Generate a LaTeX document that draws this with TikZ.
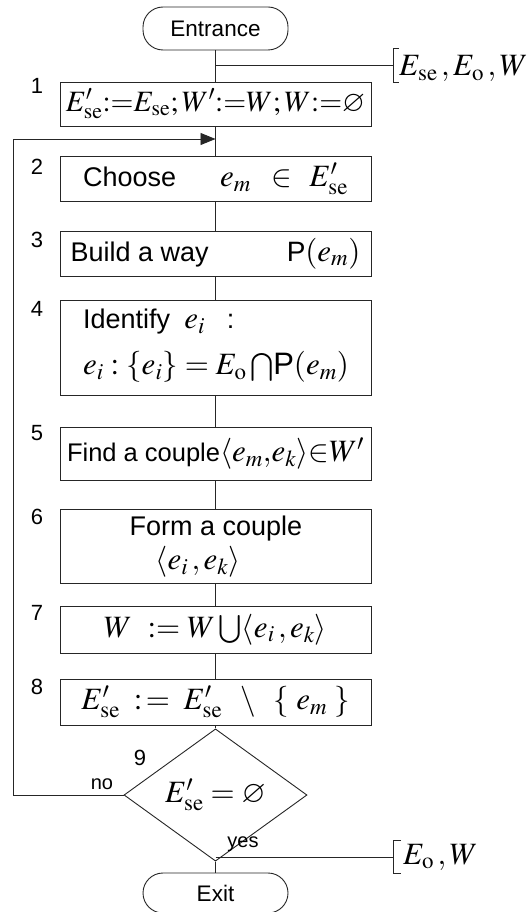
\documentclass[tikz,border=0pt]{standalone}
\usepackage{mathptmx}
\usepackage{amssymb}
\usepackage[no-math]{fontspec}
\setmainfont{Liberation Serif}
\setsansfont{Liberation Sans}
\usetikzlibrary{shapes.geometric,arrows.meta,calc}
\newcommand{\mf}{\fontsize{31}{35}\selectfont}
\newcommand{\mfs}{\fontsize{29.5}{33}\selectfont}
\tikzset{
  ln/.style={draw=black!85, line width=0.9pt},
  stepbox/.style={ln, rectangle, minimum width=311pt, inner sep=0pt, font=\sffamily\fontsize{27}{31}\selectfont},
  term/.style={ln, rectangle, rounded corners=20pt, minimum width=145pt, inner sep=0pt, font=\sffamily\fontsize{22.5}{26}\selectfont},
  num/.style={font=\sffamily\fontsize{22}{26}\selectfont, inner sep=0pt},
  txt/.style={font=\sffamily\fontsize{27}{31}\selectfont, inner sep=0pt},
  lbl/.style={font=\sffamily\fontsize{20}{24}\selectfont, inner sep=0pt},
  dtxt/.style={font=\mf, anchor=base west, inner sep=0pt},
  loopar/.style={ln, -{Triangle[length=15pt,width=12pt]}},
}
\begin{document}
\begin{tikzpicture}[x=1pt,y=-1pt]
\path[use as bounding box, fill=white] (0,0) rectangle (531,912);

% terminals
\node[term, minimum height=43pt] (ent) at (215.5,28.5) {Entrance};
\node[term, minimum height=40pt] (ex) at (215.5,893) {Exit};

% step boxes
\node[stepbox, minimum height=44pt] (b1) at (215.5,104)
  {\mfs$E'_{\mathrm{se}}{:}{=}E_{\mathrm{se}};W'{:}{=}W;W{:}{=}\varnothing$};
\node[stepbox, minimum height=45pt] (b2) at (215.5,178.5)
  {Choose\hspace{44pt}{\mf$e_m\;\;\in\;\,E'_{\mathrm{se}}$}};
\node[stepbox, minimum height=45pt] (b3) at (215.5,253.5)
  {Build a way\hspace{78pt}{\fontsize{28}{32}\selectfont P}{\mf$(e_m)$}};
\node[stepbox, minimum height=95pt] (b4) at (215.5,347.5) {};
\node[txt, anchor=west] (t4a) at (83,322)
  {Identify\hspace{14pt}{\mf$e_i$}\hspace{22pt}:};
\node[txt, anchor=west] (t4b) at (83,367)
  {\mf$e_i:\{e_i\}=E_{\mathrm{o}}\bigcap$\textsf{P}$(e_m)$};
\node[stepbox, minimum height=53pt, font=\sffamily\fontsize{25.5}{29}\selectfont] (b5) at (215.5,453.5)
  {Find a couple{\mf$\langle e_m{,}e_k\rangle{\in}W'$}};
\node[stepbox, minimum height=74pt] (b6) at (215.5,546) {};
\node[txt] (t6a) at (216,529) {Form a couple};
\node[txt, font=\mf] (t6b) at (198,562) {$\langle e_i\,, e_k\rangle$};
\node[stepbox, minimum height=47pt] (b7) at (215.5,629.5)
  {\mf$W\ \mathrel{:=}W\bigcup\langle e_i\,,e_k\rangle$};
\node[stepbox, minimum height=46pt] (b8) at (215.5,702)
  {\mf$E'_{\mathrm{se}}\;\;{:}\,{=}\;\;E'_{\mathrm{se}}\;\;\setminus\;\;\{\;e_m\;\}$};

% decision
\node[ln, diamond, minimum width=183pt, minimum height=82pt, inner sep=0pt, font=\mf] (dia) at (215.5,795)
  {$E'_{\mathrm{se}}=\varnothing$};

% step numbers
\node[num] (n1) at (37,86) {1};
\node[num] (n2) at (37,167) {2};
\node[num] (n3) at (37,240) {3};
\node[num] (n4) at (37,309) {4};
\node[num] (n5) at (37,433) {5};
\node[num] (n6) at (37,517) {6};
\node[num] (n7) at (37,613) {7};
\node[num] (n8) at (37,687) {8};
\node[num] (n9) at (140,758) {9};
\node[lbl] (no) at (102,784) {no};
\node[lbl] (yes) at (243,844) {yes};

% data brackets
\coordinate (j1) at (215.5,65);
\coordinate (br1) at (393,65);
\node[dtxt] (in) at (399,76) {$E_{\mathrm{se}}\,{,}\,E_{\mathrm{o}}\,{,}\,W$};
\coordinate (j2) at (215.5,857);
\coordinate (br2) at (393,857);
\node[dtxt] (out) at (403,864) {$E_{\mathrm{o}}\,{,}\,W$};

% connectors
\draw[ln] (ent) -- (b1);
\draw[ln] (b1) -- (b2);
\draw[ln] (b2) -- (b3);
\draw[ln] (b3) -- (b4);
\draw[ln] (b4) -- (b5);
\draw[ln] (b5) -- (b6);
\draw[ln] (b6) -- (b7);
\draw[ln] (b7) -- (b8);
\draw[ln] (b8) -- (dia);
\draw[ln] (dia) -- (ex);
\draw[ln] (j1) -- (br1);
\draw[ln] (j2) -- (br2);
\draw[ln] ($(br1)+(6,-17)$) -- ($(br1)+(0,-17)$) -- ($(br1)+(0,17)$) -- ($(br1)+(6,17)$);
\draw[ln] ($(br2)+(8,-17)$) -- ($(br2)+(0,-17)$) -- ($(br2)+(0,16)$) -- ($(br2)+(8,16)$);

% loop back
\coordinate (lx) at (13,139);
\coordinate (ar) at (215.5,139);
\draw[loopar] (dia.west) -| (lx) -- (ar);
\end{tikzpicture}
\end{document}
